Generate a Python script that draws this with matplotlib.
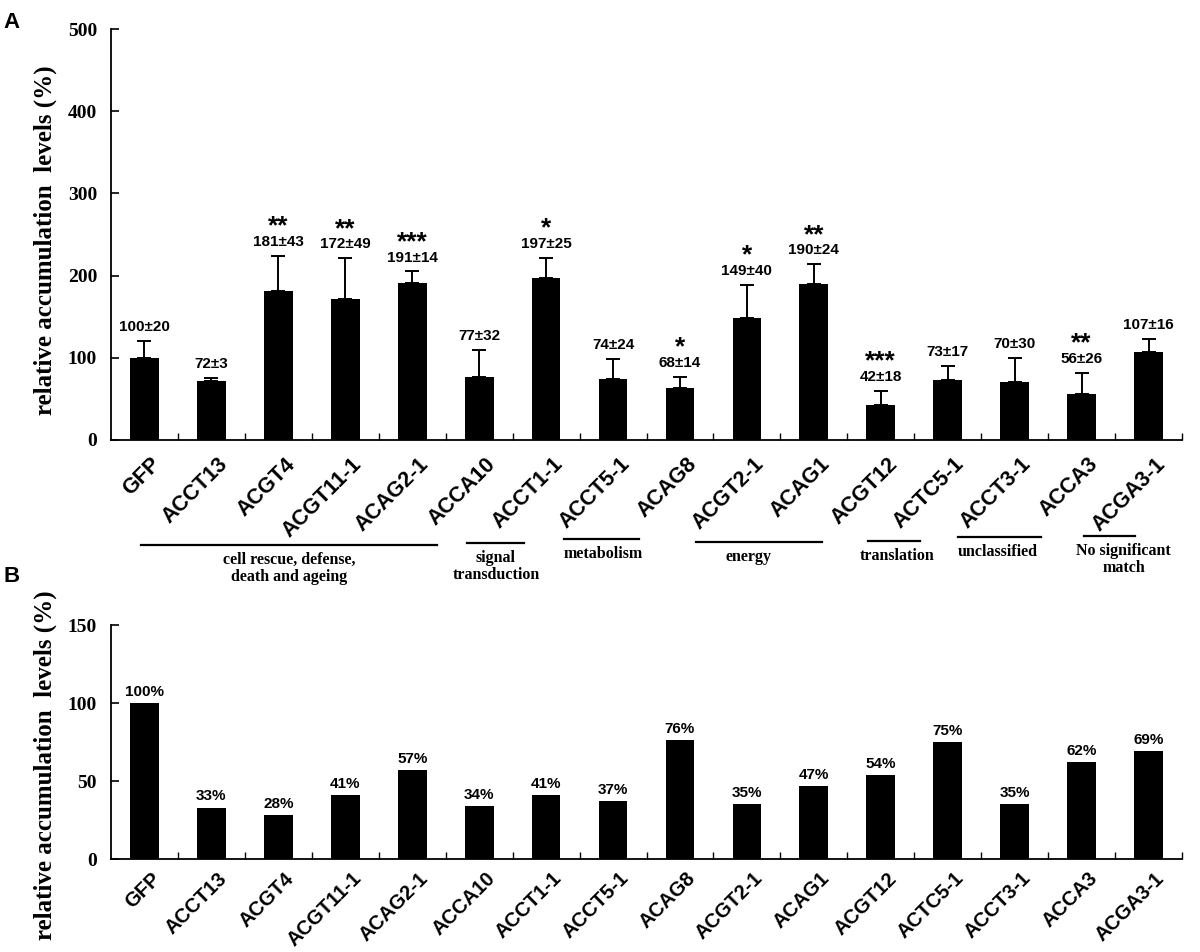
import matplotlib
matplotlib.use("Agg")
import matplotlib.pyplot as plt
import matplotlib.transforms as mtransforms
import numpy as np

# Données
genes = ["GFP", "ACCT13", "ACGT4", "ACGT11-1", "ACAG2-1", "ACCA10", "ACCT1-1", "ACCT5-1",
         "ACAG8", "ACGT2-1", "ACAG1", "ACGT12", "ACTC5-1", "ACCT3-1", "ACCA3", "ACGA3-1"]
heights_a = [100, 72, 181, 172, 191, 77, 197, 74, 63, 149, 190, 42, 73, 70, 56, 107]
errs_a = [20, 3, 43, 49, 14, 32, 25, 24, 14, 40, 24, 18, 17, 30, 26, 16]
labels_a = ["100±20", "72±3", "181±43", "172±49", "191±14", "77±32", "197±25", "74±24",
            "68±14", "149±40", "190±24", "42±18", "73±17", "70±30", "56±26", "107±16"]
stars_a = ["", "", "**", "**", "***", "", "*", "", "*", "*", "**", "***", "", "", "**", ""]

heights_b = [100, 33, 28, 41, 57, 34, 41, 37, 76, 35, 47, 54, 75, 35, 62, 69]

# groupes fonctionnels : (texte, debut, fin, centre du texte) en indices de barres
groups = [("cell rescue, defense,\ndeath and ageing", -0.05, 4.37, 2.16),
          ("signal\ntransduction", 4.82, 5.67, 5.25),
          ("metabolism", 6.27, 7.39, 6.85),
          ("energy", 8.24, 10.12, 9.02),
          ("translation", 10.81, 11.59, 11.25),
          ("unclassified", 12.15, 13.39, 12.74),
          ("No significant\nmatch", 14.04, 14.80, 14.63)]
group_line_px = [545, 543, 539, 542, 541, 537, 536]

SERIF = "Liberation Serif"
SANS = "Liberation Sans"
NARROW = ["Liberation Sans Narrow", "Liberation Sans"]

fig = plt.figure(figsize=(12, 9.52), dpi=100, facecolor="white")
W, H = 1200, 952


def make_axes(left, right, top, bottom):
    return fig.add_axes([left / W, 1 - bottom / H, (right - left) / W, (bottom - top) / H])


def style_axes(ax, ymax, ystep, ylabel_y, lab_size, lab_pad):
    x = np.arange(len(genes))
    ax.set_xlim(-0.5, len(genes) - 0.5)
    ax.set_ylim(0, ymax)
    ax.spines["top"].set_visible(False)
    ax.spines["right"].set_visible(False)
    ax.spines["left"].set_linewidth(1.3)
    ax.spines["bottom"].set_linewidth(1.3)
    ax.set_yticks(np.arange(0, ymax + 1, ystep))
    ax.tick_params(axis="y", direction="in", length=6, width=1.2, pad=10)
    for lab in ax.get_yticklabels():
        lab.set_fontfamily(SERIF)
        lab.set_fontweight("bold")
        lab.set_fontsize(14)
    # ticks entre les categories, etiquettes au centre
    ax.set_xticks(np.arange(0.5, len(genes), 1.0))
    ax.set_xticklabels([])
    ax.tick_params(axis="x", which="major", direction="in", length=5, width=1.0)
    ax.set_xticks(x, minor=True)
    ax.set_xticklabels(genes, minor=True, rotation=45, ha="right", rotation_mode="anchor",
                       fontfamily=SANS, fontweight="bold", fontsize=lab_size)
    ax.tick_params(axis="x", which="minor", length=0, pad=lab_pad)
    shift = mtransforms.ScaledTranslation(6 / 100, 0, fig.dpi_scale_trans)
    for lab in ax.get_xticklabels(minor=True):
        lab.set_transform(lab.get_transform() + shift)
    fig.text(45 / W, 1 - ylabel_y / H, "relative accumulation  levels (%)", rotation=90,
             ha="center", va="center", fontfamily=SERIF, fontweight="bold", fontsize=18)


# Panneau A
ax1 = make_axes(111, 1182, 29, 440)
x = np.arange(len(genes))
ax1.bar(x, heights_a, width=0.43, color="black", zorder=2)
ax1.errorbar(x, heights_a, yerr=[np.zeros(len(errs_a)), errs_a], fmt="none",
             ecolor="black", elinewidth=1.4, capsize=5, capthick=1.4, zorder=1)
for xi, h, e, lab, st in zip(x, heights_a, errs_a, labels_a, stars_a):
    ax1.annotate(lab, (xi, h + e), textcoords="offset points", xytext=(0, 5),
                 ha="center", va="bottom", fontfamily=NARROW, fontweight="bold", fontsize=11)
    if st:
        ax1.annotate(st, (xi, h + e), textcoords="offset points", xytext=(0, 16),
                     ha="center", va="baseline", fontfamily=SANS, fontweight="bold", fontsize=19)
style_axes(ax1, 500, 100, 240, 15.5, 10)

# Groupes fonctionnels sous le panneau A
for (text, x0, x1, xt), ypx in zip(groups, group_line_px):
    xa = ax1.transData.transform((x0, 0))[0] / W
    xb = ax1.transData.transform((x1, 0))[0] / W
    xc = ax1.transData.transform((xt, 0))[0] / W
    fig.add_artist(plt.Line2D([xa, xb], [1 - ypx / H, 1 - ypx / H], color="black", linewidth=1.6))
    fig.text(xc, 1 - (ypx + 7) / H, text, ha="center", va="top", fontfamily=SERIF,
             fontweight="bold", fontsize=11.5, linespacing=1.1)

# Panneau B
ax2 = make_axes(111, 1182, 625, 859)
ax2.bar(x, heights_b, width=0.43, color="black", zorder=2)
for xi, h in zip(x, heights_b):
    ax2.annotate(f"{h}%", (xi, h), textcoords="offset points", xytext=(0, 3),
                 ha="center", va="bottom", fontfamily=NARROW, fontweight="bold", fontsize=11)
style_axes(ax2, 150, 50, 765, 14.5, 7)

# Lettres des panneaux
fig.text(12 / W, 1 - 22 / H, "A", ha="center", va="center", fontfamily=SANS,
         fontweight="bold", fontsize=16)
fig.text(12 / W, 1 - 577 / H, "B", ha="center", va="center", fontfamily=SANS,
         fontweight="bold", fontsize=16)

fig.savefig("out.png", dpi=100, facecolor="white")
